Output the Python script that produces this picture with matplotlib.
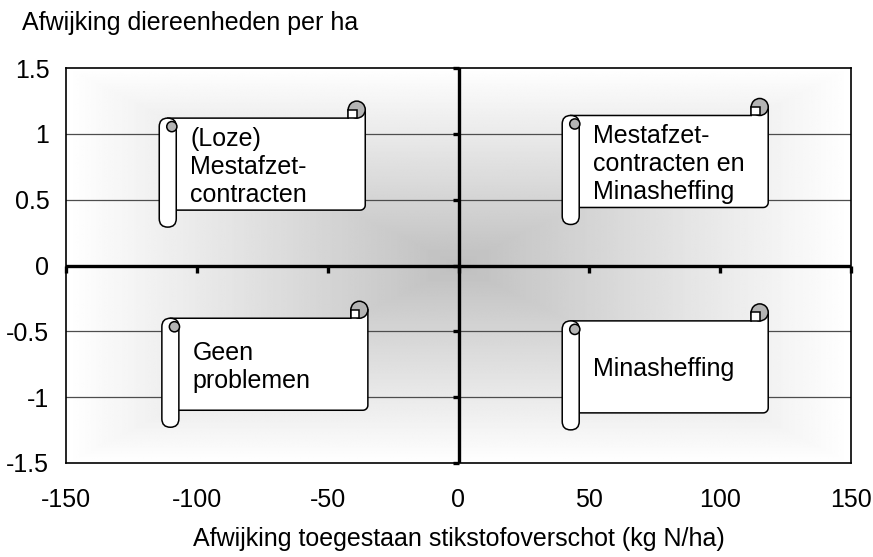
import matplotlib
matplotlib.use('Agg')
import matplotlib.pyplot as plt
import matplotlib.transforms as mtransforms
from matplotlib.patches import Polygon, Circle, FancyBboxPatch, Rectangle
import numpy as np

plt.rcParams['font.family'] = ['Liberation Sans', 'DejaVu Sans']

x_ticks = [-150, -100, -50, 0, 50, 100, 150]
y_ticks = [-1.5, -1, -0.5, 0, 0.5, 1, 1.5]
y_tick_labels = ['-1.5', '-1', '-0.5', '0', '0.5', '1', '1.5']
grid_levels = [-1, -0.5, 0.5, 1]

quadrant_labels = [
    ['(Loze)', 'Mestafzet-', 'contracten'],
    ['Mestafzet-', 'contracten en', 'Minasheffing'],
    ['Geen', 'problemen'],
    ['Minasheffing'],
]
quadrant_x = [-75, 79, -74, 79]
quadrant_y = [0.77, 0.79, -0.75, -0.77]

x_title = 'Afwijking toegestaan stikstofoverschot (kg N/ha)'
y_title = 'Afwijking diereenheden per ha'

SCROLL_W, SCROLL_H, CURL = 206, 126, 17
EDGE = dict(ec='black', lw=1.1, clip_on=False)


def draw_scroll(ax, x, y, lines):
    # shape is laid out in pixels, anchored at the data point (x, y)
    trans = mtransforms.Affine2D() + mtransforms.ScaledTranslation(x, y, ax.transData)
    W, H, d = SCROLL_W, SCROLL_H, CURL

    def p(px, py):
        return (px - W / 2, H / 2 - py)

    r = 5
    arc = [p(W - r + r * np.cos(a), H - d - r + r * np.sin(a))
           for a in np.linspace(0, np.pi / 2, 8)]
    sheet = [p(d / 2, d), p(W - d, d), p(W - d, d / 2), p(W, d / 2)] + arc + [p(d / 2, H - d)]
    ax.add_patch(Polygon(sheet, closed=True, fc='white', transform=trans, zorder=5, **EDGE))
    ax.add_patch(Circle(p(W - d / 2, d / 2), d / 2, fc='#b4b4b4', transform=trans, zorder=6, **EDGE))
    ax.add_patch(Rectangle(p(W - d, d), d / 2, d / 2, fc='white', transform=trans, zorder=7, **EDGE))
    ax.add_patch(FancyBboxPatch(p(0, H), d, H - d,
                                boxstyle='round,pad=0,rounding_size=%g' % (d / 2),
                                fc='white', transform=trans, zorder=8, **EDGE))
    ax.add_patch(Circle(p(0.74 * d, 1.5 * d), 0.3 * d, fc='#b4b4b4', transform=trans, zorder=9, **EDGE))

    n = len(lines)
    for i, line in enumerate(lines):
        ax.text(31 - W / 2, -(i - (n - 1) / 2) * 28, line, transform=trans,
                ha='left', va='center_baseline', fontsize=18, zorder=10)


fig = plt.figure(figsize=(8.73, 5.57), dpi=100)
ax = fig.add_axes([66 / 873, 94 / 557, 785 / 873, 395 / 557])

# background shading, darkest in the middle
u = np.linspace(-1, 1, 400)
t = np.maximum(np.abs(u)[None, :], np.abs(u)[:, None])
shade = 0.75 + 0.25 * t
ax.imshow(shade, cmap='gray', vmin=0, vmax=1, extent=[-150, 150, -1.5, 1.5],
          aspect='auto', zorder=0, interpolation='bilinear')

for g in grid_levels:
    ax.axhline(g, color='0.3', lw=0.9, zorder=1)

ax.axhline(0, color='black', lw=2.4, zorder=3)
ax.axvline(0, color='black', lw=2.4, zorder=3)
ax.plot(x_ticks, [0] * len(x_ticks), linestyle='none', marker=3, markersize=5,
        mew=2.4, color='black', zorder=3, clip_on=False)
ax.plot([0] * len(y_ticks), y_ticks, linestyle='none', marker=0, markersize=4,
        mew=2.4, color='black', zorder=3, clip_on=False)

ax.set_xlim(-150, 150)
ax.set_ylim(-1.5, 1.5)
ax.set_xticks(x_ticks, [str(v) for v in x_ticks])
ax.set_yticks(y_ticks, y_tick_labels)
ax.tick_params(axis='x', length=0, pad=18, labelsize=18)
ax.tick_params(axis='y', length=0, pad=12, labelsize=18)
for s in ax.spines.values():
    s.set_linewidth(1.2)
    s.set_color('black')

for lx, ly, lines in zip(quadrant_x, quadrant_y, quadrant_labels):
    draw_scroll(ax, lx, ly, lines)

fig.text(22 / 873, 1 - 23 / 557, y_title, ha='left', va='center', fontsize=18)
fig.text(459 / 873, 1 - 539 / 557, x_title, ha='center', va='center', fontsize=18)

fig.savefig('out.png', dpi=100)
